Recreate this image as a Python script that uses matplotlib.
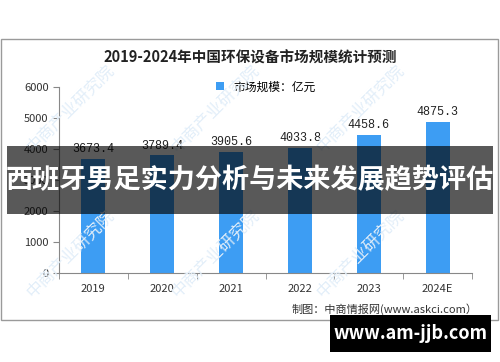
import matplotlib.pyplot as plt
from matplotlib.patches import Rectangle

plt.rcParams['font.family'] = ['Noto Sans CJK SC', 'DejaVu Sans']

# data
years = ["2019", "2020", "2021", "2022", "2023", "2024E"]
values = [3673.4, 3789.4, 3905.6, 4033.8, 4458.6, 4875.3]
yticks = [0, 1000, 2000, 3000, 4000, 5000, 6000]

fig = plt.figure(figsize=(5, 3.62), dpi=100)
fig.patch.set_facecolor("white")

# outer frame
fig.patches.append(Rectangle((0.002, 0.116), 0.994, 0.776, transform=fig.transFigure,
                             fill=False, edgecolor="#9a9a9a", linewidth=1.0, zorder=0))

# faint watermarks
for wx in [0.14, 0.43, 0.72]:
    for wy in [0.30, 0.70]:
        fig.text(wx, wy, "中商产业研究院", rotation=45, fontsize=12, color="#e2eef9",
                 ha="center", va="center", zorder=0)

ax = fig.add_axes([0.118, 0.246, 0.826, 0.514])
ax.set_facecolor("none")
x = range(len(years))
bars = ax.bar(x, values, width=0.35, color="#3d9df3", label="市场规模：亿元", zorder=2)
for xi, v in zip(x, values):
    ax.text(xi, v + 120, f"{v:.1f}", ha="center", va="bottom", fontsize=8.5,
            family=["Liberation Mono", "DejaVu Sans"], color="#222222")

ax.set_xlim(-0.5, len(years) - 0.5)
ax.set_ylim(0, 6000)
ax.set_yticks(yticks)
ax.set_yticklabels([str(t) for t in yticks], fontsize=8, color="#333333")
ax.set_xticks(list(x))
ax.set_xticklabels(years, fontsize=8, color="#333333")
ax.set_xticks([i - 0.5 for i in range(len(years) + 1)], minor=True)
ax.tick_params(axis="x", which="major", length=0, pad=8)
ax.tick_params(axis="x", which="minor", length=4, color="#888888")
ax.tick_params(axis="y", length=4, color="#888888")
for s in ["top", "right"]:
    ax.spines[s].set_visible(False)
ax.spines["left"].set_color("#888888")
ax.spines["bottom"].set_color("#888888")

fig.text(0.5, 0.842, "2019-2024年中国环保设备市场规模统计预测", ha="center", va="center",
         fontsize=10.5, fontweight="bold", color="#222222")
ax.legend(loc="center", bbox_to_anchor=(0.5, 1.0), frameon=False, fontsize=8.5,
          handlelength=0.7, handleheight=0.7, bbox_transform=ax.transAxes)

fig.text(0.955, 0.147, "制图：中商情报网(www.askci.com）", ha="right", va="center",
         fontsize=8, color="#333333")

# dark banner
fig.patches.append(Rectangle((0.014, 0.409), 0.972, 0.188, transform=fig.transFigure,
                             facecolor="black", alpha=0.65, edgecolor="none", zorder=5))
fig.text(0.5, 0.503, "西班牙男足实力分析与未来发展趋势评估", ha="center", va="center",
         fontsize=19.5, fontweight="bold", color="white", zorder=6)

# site box
fig.patches.append(Rectangle((0.66, 0.028), 0.322, 0.102, transform=fig.transFigure,
                             facecolor="black", edgecolor="none", zorder=5))
fig.text(0.821, 0.079, "www.am-jjb.com", ha="center", va="center", fontsize=13,
         fontweight="bold", color="white", zorder=6)

fig.savefig("out.png", dpi=100)
